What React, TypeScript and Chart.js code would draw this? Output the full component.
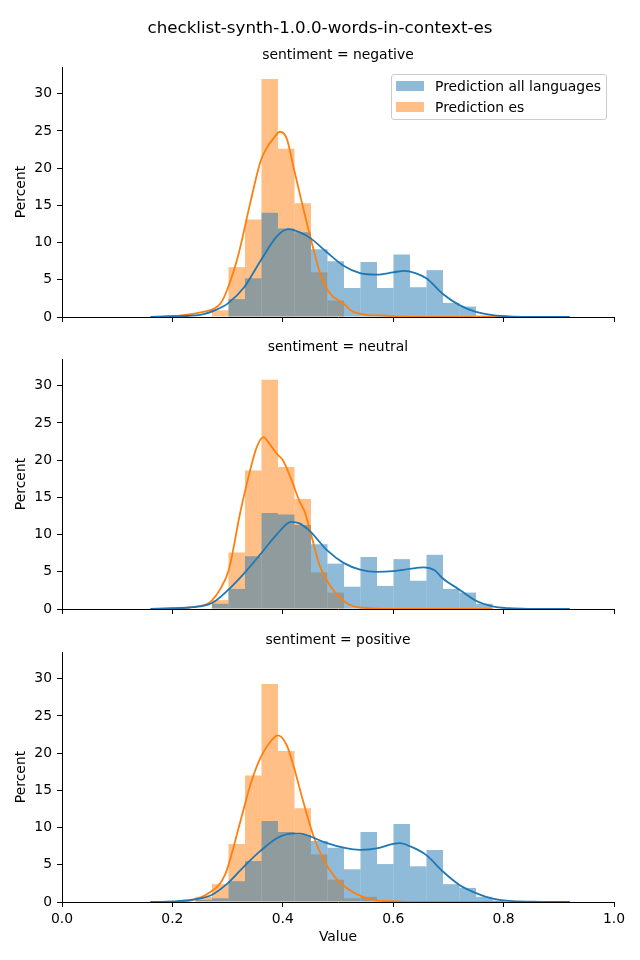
import React, { useEffect, useRef } from "react";
import { Chart, registerables } from "chart.js";
Chart.register(...registerables);

const FIG_TITLE = "checklist-synth-1.0.0-words-in-context-es";
const PANEL_TITLES = ["sentiment = negative", "sentiment = neutral", "sentiment = positive"];
const SERIES_LABELS = ["Prediction all languages", "Prediction es"];
const X_TICKS = [0, 0.2, 0.4, 0.6, 0.8, 1.0];
const Y_TICKS = [0, 5, 10, 15, 20, 25, 30];
const Y_MAX = 33.6;

// histogram bin centers (bin width ~0.03)
const BIN_CENTERS = [0.2567, 0.2866, 0.3165, 0.3464, 0.3763, 0.4062, 0.4361, 0.466, 0.4959, 0.5258, 0.5557, 0.5856, 0.6155, 0.6454, 0.6753, 0.7052, 0.7351, 0.765, 0.7949];

const NEG_ALL_HIST = [0, 0, 2.4, 5.2, 14.0, 11.9, 11.4, 9.1, 7.5, 3.9, 7.4, 3.9, 8.4, 4.0, 6.3, 1.9, 1.4, 0.2, 0];
const NEG_ES_HIST = [0, 0.9, 6.7, 13.1, 32.0, 22.6, 15.3, 6.0, 2.2, 0, 0, 0, 0, 0, 0, 0, 0, 0, 0];
const NEU_ALL_HIST = [0, 0.7, 2.7, 7.1, 12.9, 12.7, 11.3, 8.7, 6.1, 3.0, 7.0, 3.1, 6.7, 3.8, 7.3, 2.7, 2.2, 0.7, 0];
const NEU_ES_HIST = [0, 1.2, 7.6, 18.6, 30.8, 19.1, 14.8, 4.9, 2.2, 0, 0, 0, 0, 0, 0, 0, 0, 0, 0];
const POS_ALL_HIST = [0.3, 0.5, 2.8, 5.5, 10.9, 9.4, 9.0, 8.2, 7.3, 4.4, 9.4, 5.1, 10.5, 4.8, 7.0, 2.4, 1.9, 0.7, 0.2];
const POS_ES_HIST = [0.7, 2.4, 7.8, 17.0, 29.3, 20.3, 12.6, 6.4, 3.0, 0.5, 0.7, 0, 0, 0, 0, 0, 0, 0, 0];

// KDE curves
const NEG_ALL_KDE_X = [0.16, 0.2, 0.25, 0.28, 0.3, 0.33, 0.36, 0.39, 0.41, 0.43, 0.45, 0.48, 0.51, 0.54, 0.57, 0.6, 0.62, 0.64, 0.66, 0.69, 0.72, 0.75, 0.78, 0.82, 0.86, 0.92];
const NEG_ALL_KDE_Y = [0, 0.1, 0.3, 1.0, 1.8, 4.0, 7.6, 10.9, 11.8, 11.4, 10.6, 8.7, 6.9, 5.9, 5.7, 6.0, 6.2, 5.9, 5.2, 3.1, 1.6, 0.7, 0.25, 0.05, 0.01, 0];
const NEG_ES_KDE_X = [0.17, 0.2, 0.22, 0.24, 0.26, 0.275, 0.287, 0.3, 0.32, 0.34, 0.36, 0.37, 0.383, 0.395, 0.407, 0.419, 0.431, 0.449, 0.467, 0.48, 0.49, 0.5, 0.51, 0.525, 0.55, 0.58, 0.62, 0.7, 0.8];
const NEG_ES_KDE_Y = [0, 0.1, 0.25, 0.45, 0.75, 1.1, 1.8, 3.8, 8.5, 15.0, 21.0, 22.6, 24.0, 24.9, 24.0, 20.3, 16.5, 11.0, 6.0, 3.8, 2.8, 2.3, 1.8, 0.8, 0.3, 0.2, 0.05, 0, 0];

const NEU_ALL_KDE_X = [0.16, 0.2, 0.23, 0.25, 0.272, 0.3, 0.33, 0.36, 0.39, 0.415, 0.43, 0.45, 0.48, 0.51, 0.54, 0.57, 0.6, 0.63, 0.655, 0.675, 0.69, 0.72, 0.75, 0.78, 0.81, 0.85, 0.92];
const NEU_ALL_KDE_Y = [0, 0.1, 0.2, 0.35, 0.8, 2.5, 4.8, 7.4, 10.1, 11.7, 11.5, 10.4, 7.9, 6.2, 5.3, 5.0, 5.1, 5.4, 5.6, 5.2, 4.1, 2.6, 1.1, 0.35, 0.1, 0.02, 0];
const NEU_ES_KDE_X = [0.17, 0.21, 0.24, 0.26, 0.271, 0.286, 0.302, 0.323, 0.341, 0.353, 0.365, 0.375, 0.39, 0.4, 0.415, 0.43, 0.44, 0.452, 0.467, 0.48, 0.5, 0.52, 0.54, 0.57, 0.62, 0.78];
const NEU_ES_KDE_Y = [0, 0.1, 0.3, 0.6, 1.1, 2.6, 5.2, 13.0, 18.7, 21.8, 23.1, 22.3, 20.8, 20.0, 17.5, 14.5, 13.0, 9.8, 5.8, 3.8, 1.8, 0.6, 0.2, 0.05, 0, 0];

const POS_ALL_KDE_X = [0.16, 0.19, 0.215, 0.24, 0.27, 0.3, 0.33, 0.36, 0.39, 0.415, 0.432, 0.45, 0.48, 0.51, 0.54, 0.57, 0.6, 0.612, 0.63, 0.66, 0.69, 0.72, 0.75, 0.78, 0.81, 0.85, 0.92];
const POS_ALL_KDE_Y = [0, 0.05, 0.15, 0.35, 0.9, 2.5, 4.8, 6.9, 8.6, 9.2, 9.2, 8.8, 7.9, 7.3, 7.0, 7.2, 7.8, 7.9, 7.5, 6.3, 4.1, 2.3, 1.2, 0.45, 0.15, 0.04, 0];
const POS_ES_KDE_X = [0.2, 0.233, 0.264, 0.295, 0.323, 0.341, 0.359, 0.377, 0.391, 0.407, 0.419, 0.437, 0.455, 0.473, 0.497, 0.521, 0.545, 0.569, 0.6, 0.65, 0.8];
const POS_ES_KDE_Y = [0, 0.2, 1.1, 3.6, 10.8, 15.7, 19.3, 21.5, 22.4, 21.1, 18.4, 13.5, 9.0, 5.8, 3.1, 1.6, 0.7, 0.2, 0.1, 0, 0];

const BLUE = "#1f77b4";
const ORANGE = "#ff7f0e";
const BLUE_FILL = "rgba(31,119,180,0.5)";
const ORANGE_FILL = "rgba(255,127,14,0.5)";
const FONT = "'DejaVu Sans', sans-serif";

type PanelProps = {
  canvasTop: number;
  canvasHeight: number;
  padTop: number;
  xHeight: number;
  showXLabels: boolean;
  allHist: number[];
  esHist: number[];
  allKdeX: number[];
  allKdeY: number[];
  esKdeX: number[];
  esKdeY: number[];
};

function Panel(p: PanelProps) {
  const ref = useRef<HTMLCanvasElement | null>(null);
  useEffect(() => {
    if (!ref.current) return;
    const toPts = (xs: number[], ys: number[]) => xs.map((x, i) => ({ x, y: ys[i] }));
    const toBars = (ys: number[]) =>
      BIN_CENTERS.map((x, i) => ({ x, y: ys[i] })).filter((d) => d.y > 0);
    const chart = new Chart(ref.current, {
      type: "bar",
      data: {
        datasets: [
          {
            type: "line",
            label: SERIES_LABELS[0] + " kde",
            data: toPts(p.allKdeX, p.allKdeY),
            borderColor: BLUE,
            borderWidth: 1.8,
            pointRadius: 0,
            fill: false,
            cubicInterpolationMode: "monotone",
            order: 0,
          },
          {
            type: "line",
            label: SERIES_LABELS[1] + " kde",
            data: toPts(p.esKdeX, p.esKdeY),
            borderColor: ORANGE,
            borderWidth: 1.8,
            pointRadius: 0,
            fill: false,
            cubicInterpolationMode: "monotone",
            order: 1,
          },
          {
            type: "bar",
            label: SERIES_LABELS[0],
            data: toBars(p.allHist),
            backgroundColor: BLUE_FILL,
            borderWidth: 0,
            inflateAmount: 0,
            barPercentage: 1,
            categoryPercentage: 1,
            grouped: false,
            order: 2,
          },
          {
            type: "bar",
            label: SERIES_LABELS[1],
            data: toBars(p.esHist),
            backgroundColor: ORANGE_FILL,
            borderWidth: 0,
            inflateAmount: 0,
            barPercentage: 1,
            categoryPercentage: 1,
            grouped: false,
            order: 3,
          },
        ],
      } as any,
      options: {
        animation: false,
        responsive: false,
        maintainAspectRatio: false,
        layout: { padding: { top: p.padTop, right: 26, left: 0, bottom: 0 } },
        plugins: { legend: { display: false }, tooltip: { enabled: false }, title: { display: false } },
        scales: {
          x: {
            type: "linear",
            min: 0,
            max: 1,
            offset: false,
            grid: { display: true, drawOnChartArea: false, drawTicks: true, tickLength: 5, color: "#000", lineWidth: 1, offset: false },
            border: { display: true, color: "#000", width: 1 },
            ticks: {
              padding: 4,
              color: "#000",
              font: { family: FONT, size: 13.9 },
              maxRotation: 0,
              callback: (v: any) => (p.showXLabels ? Number(v).toFixed(1) : ""),
            },
            afterBuildTicks: (s: any) => {
              s.ticks = X_TICKS.map((v) => ({ value: v }));
            },
            afterFit: (s: any) => {
              s.height = p.xHeight;
            },
            title: {
              display: p.showXLabels,
              text: "Value",
              color: "#000",
              font: { family: FONT, size: 13.9 },
              padding: { top: 0, bottom: 14.5 },
            },
          },
          y: {
            type: "linear",
            min: 0,
            max: Y_MAX,
            grid: { display: true, drawOnChartArea: false, drawTicks: true, tickLength: 5, color: "#000", lineWidth: 1 },
            border: { display: true, color: "#000", width: 1 },
            ticks: {
              padding: 5,
              color: "#000",
              font: { family: FONT, size: 13.9 },
              callback: (v: any) => String(v),
            },
            afterBuildTicks: (s: any) => {
              s.ticks = Y_TICKS.map((v) => ({ value: v }));
            },
            afterFit: (s: any) => {
              s.width = 62;
            },
            title: {
              display: true,
              text: "Percent",
              color: "#000",
              font: { family: FONT, size: 13.9 },
              padding: { top: 13.5, bottom: 0 },
            },
          },
        },
      } as any,
    });
    return () => chart.destroy();
  }, []);
  return (
    <canvas
      ref={ref}
      width={640}
      height={p.canvasHeight}
      style={{ position: "absolute", left: 0, top: p.canvasTop, width: 640, height: p.canvasHeight }}
    />
  );
}

const textStyle = (top: number, size: number, centerX: number): React.CSSProperties => ({
  position: "absolute",
  left: centerX - 300,
  width: 600,
  top: top - 12,
  height: 24,
  lineHeight: "24px",
  textAlign: "center",
  fontFamily: FONT,
  fontSize: size,
  color: "#000",
  whiteSpace: "nowrap",
});

export default function App() {
  const axesCenter = (62 + 614) / 2;
  return (
    <div style={{ position: "absolute", left: 0, top: 0, width: 640, height: 960, background: "#fff", overflow: "hidden" }}>
      <Panel canvasTop={37} canvasHeight={303} padTop={30} xHeight={23} showXLabels={false}
        allHist={NEG_ALL_HIST} esHist={NEG_ES_HIST}
        allKdeX={NEG_ALL_KDE_X} allKdeY={NEG_ALL_KDE_Y} esKdeX={NEG_ES_KDE_X} esKdeY={NEG_ES_KDE_Y} />
      <Panel canvasTop={329} canvasHeight={303} padTop={30} xHeight={23} showXLabels={false}
        allHist={NEU_ALL_HIST} esHist={NEU_ES_HIST}
        allKdeX={NEU_ALL_KDE_X} allKdeY={NEU_ALL_KDE_Y} esKdeX={NEU_ES_KDE_X} esKdeY={NEU_ES_KDE_Y} />
      <Panel canvasTop={622} canvasHeight={338} padTop={30} xHeight={58} showXLabels={true}
        allHist={POS_ALL_HIST} esHist={POS_ES_HIST}
        allKdeX={POS_ALL_KDE_X} allKdeY={POS_ALL_KDE_Y} esKdeX={POS_ES_KDE_X} esKdeY={POS_ES_KDE_Y} />
      <div style={textStyle(27, 16.7, 320)}>{FIG_TITLE}</div>
      <div style={textStyle(54, 13.9, axesCenter)}>{PANEL_TITLES[0]}</div>
      <div style={textStyle(346, 13.9, axesCenter)}>{PANEL_TITLES[1]}</div>
      <div style={textStyle(639, 13.9, axesCenter)}>{PANEL_TITLES[2]}</div>
      <div
        style={{
          position: "absolute",
          left: 391,
          top: 74,
          width: 216,
          height: 46,
          boxSizing: "border-box",
          border: "1px solid #cccccc",
          borderRadius: 3,
          background: "rgba(255,255,255,0.8)",
          fontFamily: FONT,
          fontSize: 13.9,
          color: "#000",
        }}
      >
        {[BLUE_FILL, ORANGE_FILL].map((c, i) => (
          <div key={i} style={{ position: "absolute", left: 4, top: 6 + i * 21, height: 11, width: 205 }}>
            <div style={{ position: "absolute", left: 0, top: 0, width: 28, height: 10, background: c }} />
            <div style={{ position: "absolute", left: 39, top: -6, lineHeight: "22px", whiteSpace: "nowrap" }}>
              {SERIES_LABELS[i]}
            </div>
          </div>
        ))}
      </div>
    </div>
  );
}
